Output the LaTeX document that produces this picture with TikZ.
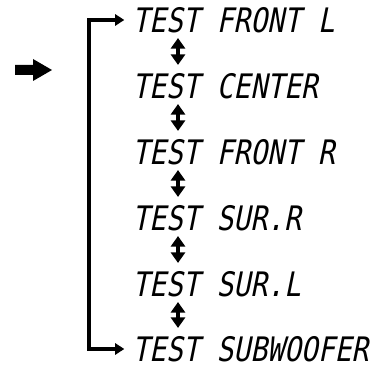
\documentclass[tikz,border=0pt]{standalone}
\usepackage{fontspec}
\newfontfamily\lcdfont[FakeStretch=0.83,FakeSlant=0.2]{DejaVu Sans Mono}
\usetikzlibrary{arrows.meta,calc}
\begin{document}
\begin{tikzpicture}[x=0.025cm,y=0.025cm]
  \tikzset{lcd/.style={anchor=west, inner sep=0pt, font=\lcdfont\fontsize{24}{24}\selectfont},
    loopline/.style={line width=2.3pt, {Triangle[length=6.5pt,width=8pt]}-{Triangle[length=6.5pt,width=8pt]}, shorten <=5.5pt, shorten >=5.5pt},
    updown/.style={line width=2.8pt, {Triangle[length=7.5pt,width=10pt]}-{Triangle[length=7.5pt,width=10pt]}}}
  \useasboundingbox (0,0) rectangle (382,366);
  \node[lcd] (frontl) at (132,346) {TEST FRONT L};
  \node[lcd] (center) at (132,280) {TEST CENTER};
  \node[lcd] (frontr) at (132,214) {TEST FRONT R};
  \node[lcd] (surr) at (132,148) {TEST SUR.R};
  \node[lcd] (surl) at (132,82) {TEST SUR.L};
  \node[lcd] (subw) at (132,17) {TEST SUBWOOFER};
  % loop back from subwoofer to front L
  \coordinate (turn) at (89,181);
  \draw[loopline] (frontl.west) -| (turn) |- (subw.west);
  \draw[updown] ($(frontl.south west)+(46,-5)$) -- ($(center.north west)+(46,8)$);
  \draw[updown] ($(center.south west)+(46,-5)$) -- ($(frontr.north west)+(46,8)$);
  \draw[updown] ($(frontr.south west)+(46,-5)$) -- ($(surr.north west)+(46,8)$);
  \draw[updown] ($(surr.south west)+(46,-5)$) -- ($(surl.north west)+(46,8)$);
  \draw[updown] ($(surl.south west)+(46,-5)$) -- ($(subw.north west)+(46,8)$);
  % entry arrow
  \fill (15,291) -- (33,291) -- (33,285) -- (52,296) -- (33,307) -- (33,301) -- (15,301) -- cycle;
\end{tikzpicture}
\end{document}
